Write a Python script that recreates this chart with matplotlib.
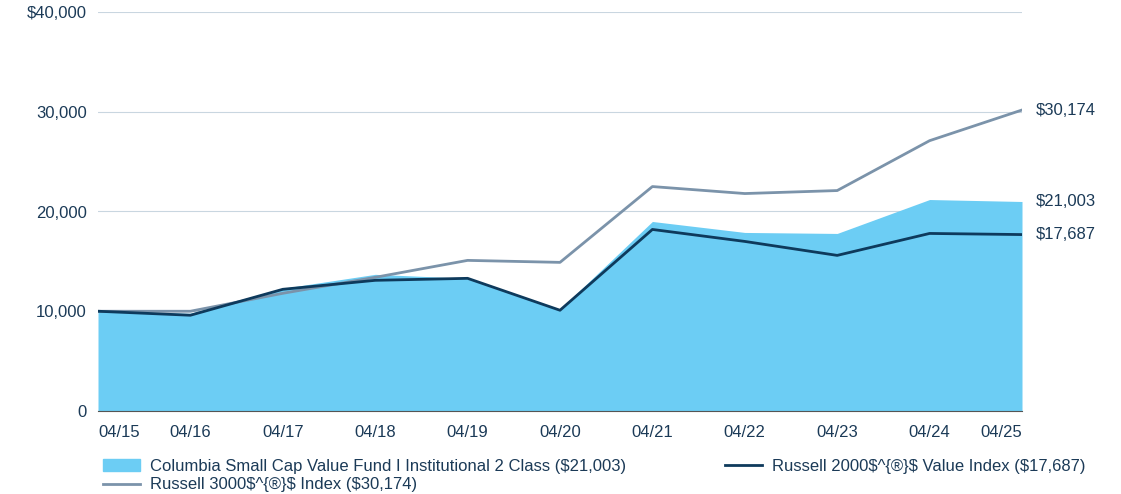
import matplotlib
matplotlib.use("Agg")
import matplotlib.pyplot as plt
from matplotlib.patches import Patch
from matplotlib.lines import Line2D

dates = ["04/15","04/16","04/17","04/18","04/19","04/20","04/21","04/22","04/23","04/24","04/25"]
fund = [10000, 9800, 12300, 13700, 13300, 10200, 19000, 17900, 17800, 21200, 21003]
r2000v = [10000, 9600, 12200, 13100, 13300, 10100, 18200, 17000, 15600, 17800, 17687]
r3000 = [10000, 10000, 11800, 13400, 15100, 14900, 22500, 21800, 22100, 27100, 30174]
yticks = [0, 10000, 20000, 30000, 40000]
ylabels = ["0", "10,000", "20,000", "30,000", "$40,000"]

plt.rcParams["font.family"] = ["Liberation Sans Narrow", "Liberation Sans", "DejaVu Sans"]
navy = "#1b3a57"
fig = plt.figure(figsize=(11.21, 4.94), dpi=100)
ax = fig.add_axes([98/1121, 83/494, 924/1121, 399/494])
x = list(range(len(dates)))
ax.fill_between(x, fund, 0, color="#6ccdf4", lw=0, zorder=2)
ax.plot(x, r3000, color="#7b93aa", lw=2, zorder=3)
ax.plot(x, r2000v, color="#0e3a5c", lw=2, zorder=4)
ax.set_xlim(0, 10)
ax.set_ylim(0, 40000)
ax.set_yticks(yticks)
ax.set_yticklabels(ylabels, fontsize=12, color=navy)
ax.grid(axis="y", color="#c9d6e0", lw=0.8, zorder=0)
ax.set_xticks(x)
ax.set_xticklabels(dates, fontsize=12, color=navy)
tl = ax.get_xticklabels()
tl[0].set_ha("left"); tl[-1].set_ha("right")
ax.tick_params(axis="both", length=0, pad=8)
ax.tick_params(axis="x", pad=10)
for s in ["top", "right", "left"]:
    ax.spines[s].set_visible(False)
ax.spines["bottom"].set_color("#555555")
for v in [r3000[-1], fund[-1], r2000v[-1]]:
    ax.annotate(f"${v:,.0f}", (10, v), xytext=(10, 0), textcoords="offset points",
                va="center", fontsize=12, color=navy, annotation_clip=False)
h1 = Patch(color="#6ccdf4")
h2 = Line2D([], [], color="#0e3a5c", lw=2)
h3 = Line2D([], [], color="#7b93aa", lw=2)
kw = dict(frameon=False, fontsize=12, labelcolor=navy, handlelength=2.2, handletextpad=0.6)
fig.legend([h1, h3], ["Columbia Small Cap Value Fund I Institutional 2 Class ($21,003)",
                      "Russell 3000$^{®}$ Index ($30,174)"],
           loc="upper left", bbox_to_anchor=(88/1121, 1-444/494), labelspacing=0.2, **kw)
fig.legend([h2], ["Russell 2000$^{®}$ Value Index ($17,687)"],
           loc="upper left", bbox_to_anchor=(710/1121, 1-444/494), **kw)
fig.savefig("out.png", dpi=100)
